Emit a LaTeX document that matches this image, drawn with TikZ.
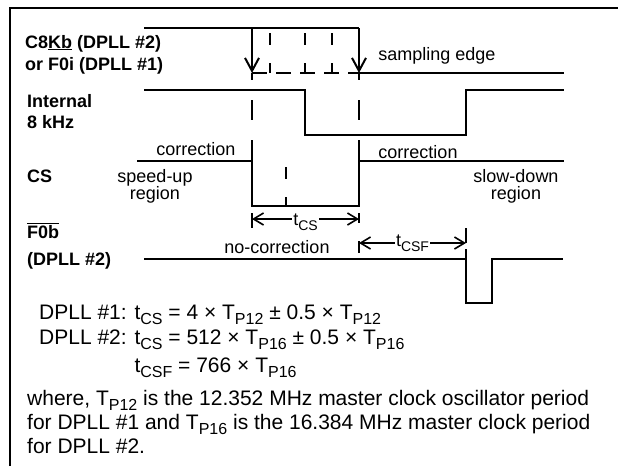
\documentclass[tikz,border=0pt]{standalone}
\usepackage{fontspec}
\setmainfont{Liberation Sans}
\usetikzlibrary{arrows.meta}
\newcommand{\lo}[2][14]{\raisebox{-.28em}{\fontsize{#1}{#1}\selectfont #2}}

\begin{document}
\begin{tikzpicture}[x=1pt,y=-1pt,
		wave/.style={line width=2.6pt},
		guide/.style={line width=2pt, dash pattern=on 20pt off 20pt, dash phase=13pt},
		fine/.style={line width=2pt, dash pattern=on 12pt off 18pt},
		edge/.style={line width=2.4pt, -{Straight Barb[length=13pt,width=14pt,line width=2pt]}},
		span/.style={line width=1.6pt, {Straight Barb[length=10pt,width=12pt]}-{Straight Barb[length=10pt,width=12pt]}},
		sig/.style={font=\fontsize{18}{22}\selectfont\bfseries, anchor=base west, inner sep=0pt, align=left},
		note/.style={font=\fontsize{18}{17}\selectfont, anchor=base, inner sep=0pt, align=center},
		eq/.style={font=\fontsize{21}{24}\selectfont, anchor=base west, inner sep=0pt}]
		\useasboundingbox (0,0) rectangle (618,466);
		\draw[line width=2pt] (10,466) -- (10,8) -- (618,8);
		% signal names
		\node[sig] (c8kb) at (25,48) {C8\underline{Kb} (DPLL \#2)};
		\node[sig] (f0i) at (25,70) {or F0i (DPLL \#1)};
		\node[sig] (int) at (27,107) {Internal};
		\node[sig] (khz) at (27,128) {8 kHz};
		\node[sig] (cs) at (27,182) {CS};
		\node[sig] (f0b) at (27,238) {$\overline{\hbox{F0b}}$};
		\node[sig] (dpll) at (27,265) {(DPLL \#2)};
		% waveforms
		\draw[wave] (144,28) -- (359,28);
		\draw[edge] (252,28) -- (252,73);
		\draw[edge] (359,28) -- (359,73);
		\draw[wave] (359,73) -- (564,73);
		\draw[wave] (144,90) -- (305,90) -- (305,135) -- (466,135) -- (466,90) -- (564,90);
		\draw[wave] (137,161) -- (252,161) -- (252,206) -- (359,206) -- (359,161) -- (564,161);
		\draw[wave] (144,259) -- (466,259) -- (466,303) -- (492,303) -- (492,259) -- (563,259);
		% dashed guides
		\draw[fine] (270,33) -- (270,73);
		\draw[fine] (305,33) -- (305,73);
		\draw[fine] (332,33) -- (332,73);
		\draw[line width=2pt, dash pattern=on 15pt off 9pt] (252,73) -- (359,73);
		\draw[guide] (252,73) -- (252,161);
		\draw[guide] (359,73) -- (359,161);
		\draw[fine] (286,167) -- (286,206);
		\draw[line width=2pt] (252,213) -- (252,228) (359,213) -- (359,223) (359,241) -- (359,253)
			(466,228) -- (466,243) (466,249) -- (466,259);
		% timing spans
		\coordinate (csA) at (252,219);
		\coordinate (csB) at (359,219);
		\coordinate (csfA) at (359,243);
		\coordinate (csfB) at (466,243);
		\draw[span] (csA) -- node[fill=white, inner sep=1pt, yshift=-3pt, font=\fontsize{18}{18}\selectfont] (tcs) {t\lo{CS}} (csB);
		\draw[span] (csfA) -- node[fill=white, inner sep=1pt, font=\fontsize{18}{18}\selectfont] (tcsf) {t\lo{CSF}} (csfB);
		% notes
		\node[note] (samp) at (437,60) {sampling edge};
		\node[note] (corr1) at (196,155) {correction};
		\node[note] (corr2) at (418,158) {correction};
		\node[note] (speed) at (155,199) {speed-up\\region};
		\node[note] (slow) at (516,199) {slow-down\\region};
		\node[note] (nocorr) at (277,253) {no-correction};
		% formulas
		\node[eq] (eq1) at (39,319) {DPLL \#1: t\lo[16]{CS} = 4 × T\lo[16]{P12} ± 0.5 × T\lo[16]{P12}};
		\node[eq] (eq2) at (39,344) {DPLL \#2: t\lo[16]{CS} = 512 × T\lo[16]{P16} ± 0.5 × T\lo[16]{P16}};
		\node[eq] (eq3) at (39,372) {\phantom{DPLL \#2: }t\lo[16]{CSF} = 766 × T\lo[16]{P16}};
		\node[eq] (w1) at (27,405) {where, T\lo[16]{P12} is the 12.352 MHz master clock oscillator period};
		\node[eq] (w2) at (27,429) {for DPLL \#1 and T\lo[16]{P16} is the 16.384 MHz master clock period};
		\node[eq] (w3) at (27,453) {for DPLL \#2.};
	\end{tikzpicture}
\end{document}
